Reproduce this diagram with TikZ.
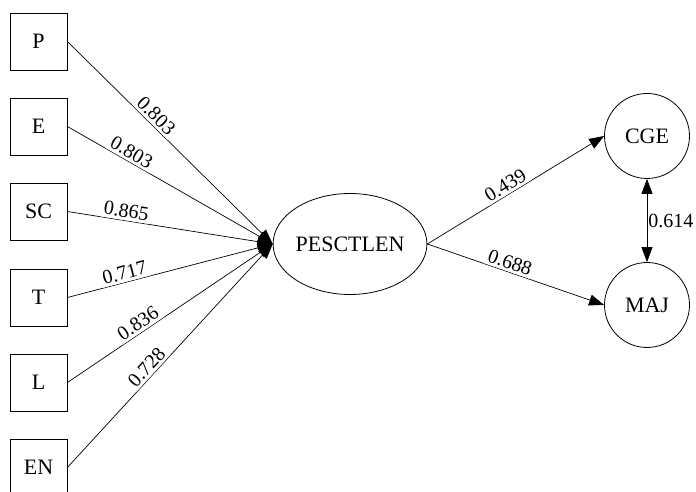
\documentclass[tikz,border=0pt]{standalone}
\usepackage{fontspec}
\setmainfont{Liberation Serif}
\usetikzlibrary{arrows.meta,shapes.geometric}
\tikzset{
  indicator/.style={draw, line width=0.8pt, minimum width=57pt, minimum height=57pt,
    inner sep=0pt, font=\fontsize{22}{25}\selectfont},
  latent/.style={draw, line width=0.8pt, ellipse, minimum width=153pt, minimum height=101pt,
    inner sep=0pt, font=\fontsize{22}{25}\selectfont},
  outcome/.style={draw, line width=0.8pt, circle, minimum size=85pt,
    inner sep=0pt, font=\fontsize{22}{25}\selectfont},
  tip/.tip={Triangle[length=15pt,width=11pt]},
  path/.style={line width=0.7pt, -tip},
  coef/.style={sloped, above, inner sep=2.5pt, fill=white, fill opacity=0.85, text opacity=1,
    font=\fontsize{20}{23}\selectfont},
}
\begin{document}
\begin{tikzpicture}[x=1pt,y=1pt]
\useasboundingbox (0,0) rectangle (696,492);
% observed indicators
\node[indicator] (P)  at (38.5,450.5) {P};
\node[indicator] (E)  at (38.5,365.5) {E};
\node[indicator] (SC) at (38.5,280.5) {SC};
\node[indicator] (T)  at (38.5,194.5) {T};
\node[indicator] (L)  at (38.5,109.5) {L};
\node[indicator] (EN) at (38.5,24.5)  {EN};
% latent construct and outcomes
\node[latent]  (PES) at (350,248) {PESCTLEN};
\node[outcome] (CGE) at (647,356) {CGE};
\node[outcome] (MAJ) at (647,187) {MAJ};
% loadings
\draw[path] (P.east)  -- node[coef, pos=0.40] {0.803} (PES.west);
\draw[path] (E.east)  -- node[coef, pos=0.29] {0.803} (PES.west);
\draw[path] (SC.east) -- node[coef, pos=0.28] {0.865} (PES.west);
\draw[path] (T.east)  -- node[coef, pos=0.29] {0.717} (PES.west);
\draw[path] (L.east)  -- node[coef, pos=0.37] {0.836} (PES.west);
\draw[path] (EN.east) -- node[coef, pos=0.42] {0.728} (PES.west);
% structural paths
\draw[path] (PES.east) -- node[coef, pos=0.47] {0.439} (CGE.west);
\draw[path] (PES.east) -- node[coef, pos=0.45] {0.688} (MAJ.west);
% correlation between outcomes
\draw[line width=0.7pt, tip-tip]
  (CGE.south) -- node[right, inner sep=1pt, font=\fontsize{20}{23}\selectfont] {0.614} (MAJ.north);
\end{tikzpicture}
\end{document}
